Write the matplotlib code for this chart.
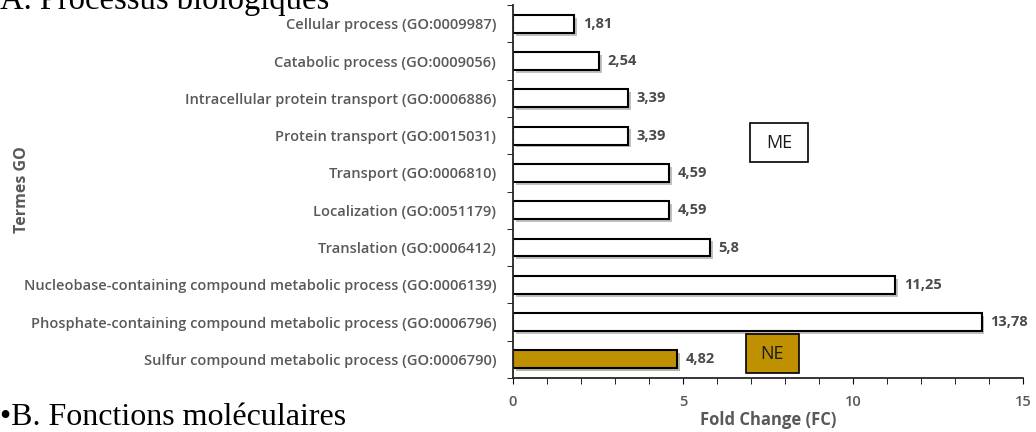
import matplotlib.pyplot as plt
import matplotlib.patheffects as pe
from matplotlib.patches import Rectangle
from matplotlib.ticker import MultipleLocator, FixedLocator

# données (du haut vers le bas)
termes = [
    'Cellular process (GO:0009987)',
    'Catabolic process (GO:0009056)',
    'Intracellular protein transport (GO:0006886)',
    'Protein transport (GO:0015031)',
    'Transport (GO:0006810)',
    'Localization (GO:0051179)',
    'Translation (GO:0006412)',
    'Nucleobase-containing compound metabolic process (GO:0006139)',
    'Phosphate-containing compound metabolic process (GO:0006796)',
    'Sulfur compound metabolic process (GO:0006790)',
]
fc = [1.81, 2.54, 3.39, 3.39, 4.59, 4.59, 5.8, 11.25, 13.78, 4.82]
groupe = ['ME'] * 9 + ['NE']
couleurs = {'ME': 'white', 'NE': '#BF9000'}

gris = '#595959'
police = 'Open Sans'

fig = plt.figure(figsize=(10.36, 4.32), dpi=100)
ax = fig.add_axes([0.495, 0.125, 0.4925, 0.863])

n = len(termes)
y = [n - 1 - i for i in range(n)]
ombre = [pe.SimplePatchShadow(offset=(2, -2), alpha=0.35), pe.Normal()]
bars = ax.barh(y, fc, height=0.48, color=[couleurs[g] for g in groupe],
               edgecolor='black', linewidth=1.5)
for b in bars:
    b.set_path_effects(ombre)

for yi, v in zip(y, fc):
    txt = f'{v:g}'.replace('.', ',')
    ax.text(v + 0.25, yi, txt, va='center', ha='left', fontsize=10.5,
            fontweight='bold', color='#4a4a4a', family=police)

ax.set_xlim(0, 15)
ax.set_ylim(-0.5, n - 0.5)
ax.set_yticks(y)
ax.set_yticklabels(termes, fontsize=10.5, color=gris, family=police, fontweight='semibold')
ax.yaxis.set_minor_locator(FixedLocator([k + 0.5 for k in range(-1, n)]))
ax.tick_params(axis='y', which='major', length=0, pad=12)
ax.tick_params(axis='y', which='minor', length=4, direction='out')
ax.xaxis.set_major_locator(MultipleLocator(5))
ax.xaxis.set_minor_locator(MultipleLocator(1))
ax.tick_params(axis='x', which='both', length=4, direction='out', pad=8)
for lab in ax.get_xticklabels():
    lab.set_fontsize(10.5)
    lab.set_color(gris)
    lab.set_family(police)
    lab.set_fontweight('semibold')

for s in ['top', 'right']:
    ax.spines[s].set_visible(False)
for s in ['left', 'bottom']:
    ax.spines[s].set_linewidth(1.3)
    ax.spines[s].set_color('#262626')

ax.set_xlabel('Fold Change (FC)', fontsize=12, color=gris, family=police,
              fontweight='bold', labelpad=2)
fig.text(0.021, 0.56, 'Termes GO', rotation=90, ha='center', va='center',
         fontsize=11.5, color=gris, family=police, fontweight='bold')

# encadrés ME / NE
for x0, y0, w, h, lab, fcol in [(6.97, 5.29, 1.71, 1.05, 'ME', 'white'),
                                (6.85, -0.36, 1.56, 1.03, 'NE', '#BF9000')]:
    ax.add_patch(Rectangle((x0, y0), w, h, fc=fcol, ec='black', lw=1.2,
                           clip_on=False, zorder=3))
    ax.text(x0 + w / 2, y0 + h / 2, lab, ha='center', va='center', fontsize=13,
            family=police, color='#1a1a1a', zorder=4)

# titres des sections (style diapositive)
fig.text(0.0, 1 - 9 / 432, 'A. Processus biologiques', ha='left', va='baseline',
         fontsize=23.5, family='Liberation Serif', color='black')
fig.text(0.0, 1 - 425 / 432, '•B. Fonctions moléculaires', ha='left', va='baseline',
         fontsize=23, family='Liberation Serif', color='black')

fig.savefig('out.png', dpi=100)
